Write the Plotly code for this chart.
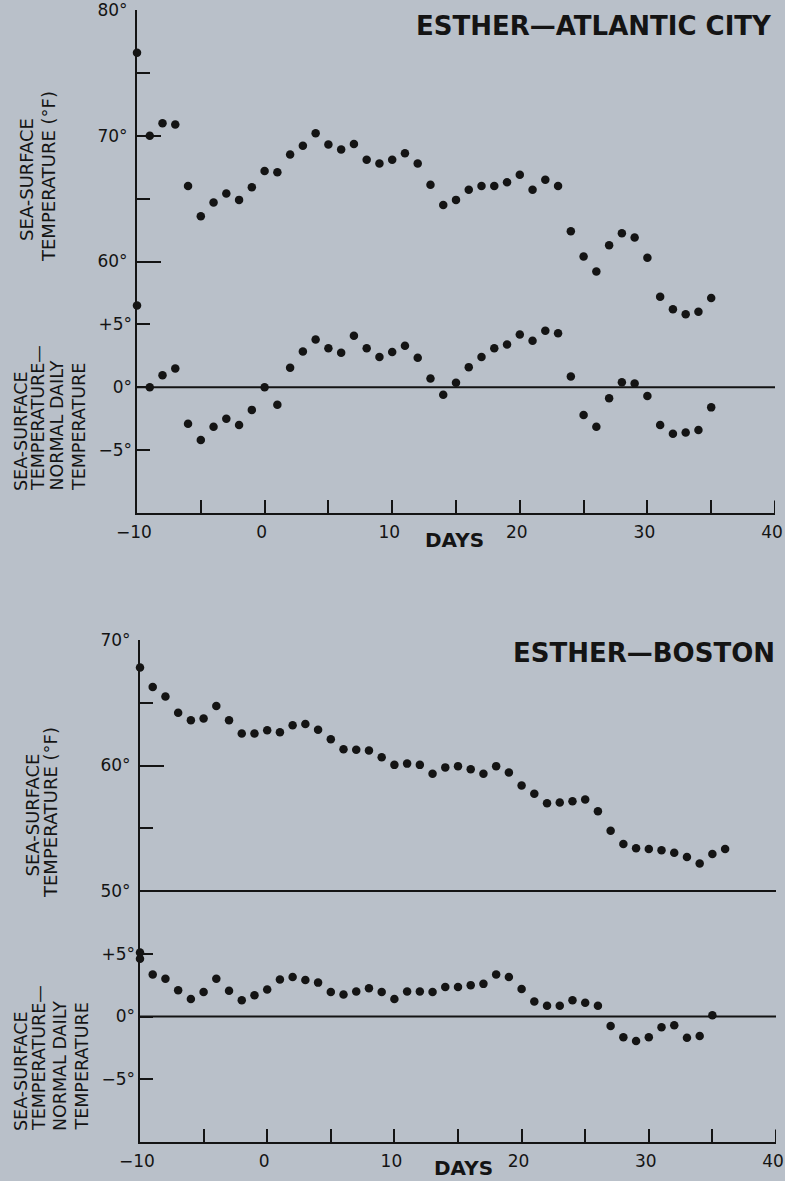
import plotly.graph_objects as go

# ---------------- data ----------------
days_top = list(range(-10, 36))
temp_top = [76.6, 70.0, 71.0, 70.9, 66.0, 63.6, 64.7, 65.4, 64.9, 65.9,
            67.2, 67.1, 68.5, 69.2, 70.2, 69.3, 68.9, 69.35, 68.1, 67.8,
            68.1, 68.6, 67.8, 66.1, 64.5, 64.9, 65.7, 66.0, 66.0, 66.3,
            66.9, 65.7, 66.5, 66.0, 62.4, 60.4, 59.2, 61.3, 62.25, 61.9,
            60.3, 57.2, 56.2, 55.8, 56.0, 57.1]
dev_top = [6.5, 0.0, 0.95, 1.5, -2.9, -4.2, -3.15, -2.5, -3.0, -1.8,
           0.0, -1.4, 1.55, 2.85, 3.8, 3.1, 2.75, 4.1, 3.1, 2.4,
           2.8, 3.3, 2.35, 0.7, -0.6, 0.35, 1.6, 2.4, 3.1, 3.4,
           4.2, 3.7, 4.5, 4.3, 0.85, -2.2, -3.15, -0.87, 0.4, 0.3,
           -0.7, -3.0, -3.7, -3.6, -3.4, -1.6]

days_bot_temp = list(range(-10, 37))
temp_bot = [67.8, 66.25, 65.5, 64.2, 63.6, 63.75, 64.75, 63.6, 62.55, 62.55,
            62.8, 62.65, 63.2, 63.3, 62.85, 62.1, 61.3, 61.25, 61.2, 60.65,
            60.05, 60.15, 60.05, 59.35, 59.85, 59.95, 59.7, 59.35, 59.95, 59.45,
            58.4, 57.75, 57.0, 57.05, 57.15, 57.3, 56.35, 54.8, 53.75, 53.4,
            53.35, 53.25, 53.05, 52.7, 52.2, 52.95, 53.35]

days_bot_dev = [-10] + list(range(-10, 36))
dev_bot = [4.6, 5.1, 3.35, 3.0, 2.1, 1.4, 1.95, 3.0, 2.05, 1.3, 1.7,
           2.15, 2.95, 3.15, 2.9, 2.7, 1.95, 1.75, 2.0, 2.25, 1.95,
           1.4, 2.0, 2.0, 1.95, 2.35, 2.35, 2.5, 2.6, 3.35, 3.15,
           2.2, 1.2, 0.85, 0.85, 1.3, 1.1, 0.85, -0.75, -1.65, -1.95,
           -1.65, -0.85, -0.7, -1.7, -1.55, 0.1]

x_ticks = [-10, -5, 0, 5, 10, 15, 20, 25, 30, 35, 40]
x_ticktext = ["\u221210", "", "0", "", "10", "", "20", "", "30", "", "40"]

top_temp_major = [60, 70, 80]
top_temp_minor = [65, 75]
top_temp_text = ["60°", "70°", "80°"]
bot_temp_major = [50, 60, 70]
bot_temp_minor = [55, 65]
bot_temp_text = ["50°", "60°", "70°"]
dev_ticks = [-5, 0, 5]
dev_text = ["\u22125°", "0°", "+5°"]

# ---------------- style ----------------
W, H = 785, 1181
BG = "#b9c0c9"
INK = "#141414"
FONT = "DejaVu Sans"


def xp(px):
    return px / W


def yp(py):
    return 1 - py / H


fig = go.Figure()
mk = dict(size=8.5, color=INK)
fig.add_trace(go.Scatter(x=days_top, y=temp_top, mode="markers", marker=mk,
                         xaxis="x", yaxis="y", cliponaxis=False))
fig.add_trace(go.Scatter(x=days_top, y=dev_top, mode="markers", marker=mk,
                         xaxis="x", yaxis="y2", cliponaxis=False))
fig.add_trace(go.Scatter(x=days_bot_temp, y=temp_bot, mode="markers", marker=mk,
                         xaxis="x2", yaxis="y3", cliponaxis=False))
fig.add_trace(go.Scatter(x=days_bot_dev, y=dev_bot, mode="markers", marker=mk,
                         xaxis="x2", yaxis="y4", cliponaxis=False))

axis_common = dict(showgrid=False, zeroline=False, ticks="inside", tickwidth=2,
                   tickcolor=INK, linecolor=INK, linewidth=2, automargin=False,
                   ticklabeloverflow="allow",
                   tickfont=dict(family=FONT, size=17, color=INK))


def xaxis_def(domain, anchor):
    return dict(axis_common, domain=domain, anchor=anchor, range=[-10, 40],
                showline=True, tickvals=x_ticks, ticktext=x_ticktext,
                ticklen=13, ticklabelstandoff=3, ticklabelshift=-3)


def temp_axis(domain, anchor, rng, major, minor, text):
    return dict(axis_common, domain=domain, anchor=anchor, range=rng,
                showline=True, tickvals=major, ticktext=text, ticklen=24,
                ticklabelstandoff=4,
                minor=dict(tickvals=minor, ticklen=13, ticks="inside",
                           tickwidth=2, tickcolor=INK, showgrid=False))


def dev_axis(over, anchor):
    return dict(axis_common, overlaying=over, anchor=anchor, side="left",
                range=[-10, 30], showline=False, tickvals=dev_ticks,
                ticktext=dev_text, ticklen=13, ticklabelstandoff=4)


top_dom = [yp(513), yp(10)]
bot_dom = [yp(1142), yp(640)]

fig.update_layout(
    template="none",
    width=W, height=H, autosize=False,
    margin=dict(l=0, r=0, t=0, b=0, pad=0),
    paper_bgcolor=BG, plot_bgcolor=BG,
    showlegend=False,
    font=dict(family=FONT, color=INK),
    xaxis=xaxis_def([xp(137), xp(775)], "y"),
    yaxis=temp_axis(top_dom, "x", [40, 80], top_temp_major, top_temp_minor, top_temp_text),
    yaxis2=dev_axis("y", "x"),
    xaxis2=xaxis_def([xp(140), xp(776)], "y3"),
    yaxis3=temp_axis(bot_dom, "x2", [30, 70], bot_temp_major, bot_temp_minor, bot_temp_text),
    yaxis4=dev_axis("y3", "x2"),
)

line = dict(color=INK, width=2)
fig.add_shape(type="line", xref="x", yref="y2", x0=-10, x1=40, y0=0, y1=0, line=line)
fig.add_shape(type="line", xref="x2", yref="y3", x0=-10, x1=40, y0=50, y1=50, line=line)
fig.add_shape(type="line", xref="x2", yref="y4", x0=-10, x1=40, y0=0, y1=0, line=line)
# end ticks at day 40 (upward, like the other day ticks)
fig.add_shape(type="line", xref="x", yref="y2", x0=40, x1=40, y0=-10, y1=-9, line=line)
fig.add_shape(type="line", xref="x2", yref="y4", x0=40, x1=40, y0=-10, y1=-9, line=line)

ann = []


def text(t, x, y, size, xa="center", ya="middle", angle=0, bold=False):
    t2 = "<b>" + t + "</b>" if bold else t
    ann.append(dict(text=t2, x=xp(x), y=yp(y), xref="paper", yref="paper",
                    xanchor=xa, yanchor=ya, showarrow=False, textangle=angle,
                    font=dict(family=FONT, size=size, color=INK)))


text("ESTHER\u2014ATLANTIC CITY", 774, 26, 26, xa="right", bold=True)
text("ESTHER\u2014BOSTON", 777, 653, 26, xa="right", bold=True)
text("DAYS", 454, 540, 20, bold=True)
text("DAYS", 463, 1168, 20, bold=True)

# top panel y titles
text("SEA-SURFACE", 27, 180, 18, angle=-90)
text("TEMPERATURE (°F)", 48, 177, 18, angle=-90)
for t, x in zip(["SEA-SURFACE", "TEMPERATURE\u2014", "NORMAL DAILY", "TEMPERATURE"],
                [21, 38, 56.5, 79]):
    text(t, x, 493, 17.5, ya="bottom", angle=-90)

# bottom panel y titles
text("SEA-SURFACE", 31.5, 815, 18, angle=-90)
text("TEMPERATURE (°F)", 50, 813, 18, angle=-90)
for t, x in zip(["SEA-SURFACE", "TEMPERATURE\u2014", "NORMAL DAILY", "TEMPERATURE"],
                [21, 39, 60, 81.5]):
    text(t, x, 1133, 17.5, ya="bottom", angle=-90)

fig.update_layout(annotations=ann)

fig.write_html(
    "out.html",
    config={"displayModeBar": False, "staticPlot": True},
    post_script="document.body.style.margin='0';"
                "document.body.style.background='" + BG + "';"
                "document.body.style.overflow='hidden';",
)
